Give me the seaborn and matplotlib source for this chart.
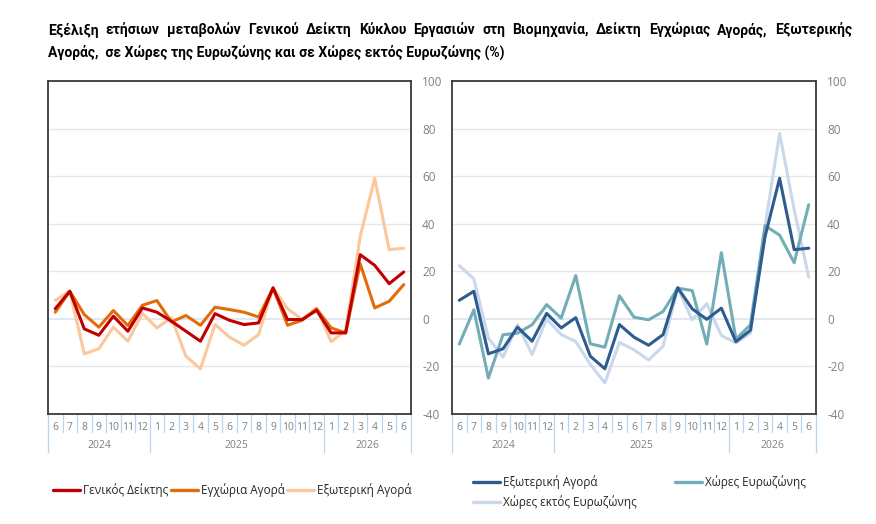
import matplotlib
matplotlib.use("Agg")
import matplotlib.pyplot as plt
import matplotlib.transforms as mtransforms
from matplotlib.lines import Line2D
import seaborn as sns
import pandas as pd
import numpy as np

# ---------------- data ----------------
months = ["6", "7", "8", "9", "10", "11", "12",
          "1", "2", "3", "4", "5", "6", "7", "8", "9", "10", "11", "12",
          "1", "2", "3", "4", "5", "6"]
years = ["2024", "2025", "2026"]
year_spans = [(0, 6), (7, 18), (19, 24)]

general = [4.3, 11.6, -4.2, -6.9, 1.1, -5.2, 4.6, 2.8, -1.0, -5.2, -9.4, 2.2, -0.6,
           -2.4, -1.7, 13.0, -0.3, -0.3, 3.6, -5.9, -5.9, 27.0, 22.5, 14.8, 19.7]
domestic = [2.8, 11.6, 1.8, -3.5, 3.5, -2.8, 5.7, 7.7, -1.3, 1.4, -2.7, 4.9, 3.9,
            2.8, 0.8, 13.0, -2.7, -0.6, 4.2, -3.8, -5.9, 23.2, 4.6, 7.4, 14.4]
external = [7.8, 11.6, -14.7, -12.6, -3.5, -9.4, 2.3, -3.8, 0.5, -15.7, -21.0, -2.4, -7.7,
            -11.1, -6.6, 13.1, 4.2, -0.2, 4.5, -9.6, -4.8, 34.6, 59.1, 29.1, 29.7]
eurozone = [-10.6, 3.8, -24.9, -6.7, -6.0, -2.5, 6.0, 0.3, 18.2, -10.5, -11.9, 9.7, 0.7,
            -0.4, 3.1, 12.9, 11.9, -10.6, 27.8, -8.5, -2.5, 39.2, 35.2, 23.6, 48.0]
non_euro = [22.4, 16.8, -8.1, -16.1, -2.5, -15.0, -0.1, -6.6, -9.5, -19.2, -26.9, -9.9, -13.0,
            -17.3, -11.5, 12.9, -0.4, 6.4, -7.0, -10.1, -6.0, 38.9, 78.0, 46.0, 17.5]

title_lines = [
    "Εξέλιξη ετήσιων μεταβολών Γενικού Δείκτη Κύκλου Εργασιών στη Βιομηχανία, Δείκτη Εγχώριας Αγοράς, Εξωτερικής",
    "Αγοράς,  σε Χώρες της Ευρωζώνης και σε Χώρες εκτός Ευρωζώνης (%)",
]

left_names = ["Γενικός Δείκτης", "Εγχώρια Αγορά", "Εξωτερική Αγορά"]
right_names = ["Εξωτερική Αγορά", "Χώρες Ευρωζώνης", "Χώρες εκτός Ευρωζώνης"]

C_RED, C_ORANGE, C_PEACH = "#C00000", "#E36C0A", "#FBC79B"
C_DBLUE, C_TEAL, C_LBLUE = "#2F5C8E", "#72ADB8", "#C9D8EC"

# ---------------- style ----------------
sns.set_theme(style="white")
plt.rcParams["font.family"] = ["Open Sans", "DejaVu Sans"]
plt.rcParams["axes.unicode_minus"] = False

W, H = 876, 524
fig = plt.figure(figsize=(W / 100, H / 100), dpi=100)


def px_axes(l, t, r, b):
    return fig.add_axes([l / W, 1 - b / H, (r - l) / W, (b - t) / H])


axL = px_axes(48, 81, 411, 414)
axR = px_axes(452, 81, 816, 414)

x = np.arange(len(months))


def draw(ax, series, colors, names, lw):
    for vals, c, n in zip(series, colors, names):
        df = pd.DataFrame({"x": x, "y": vals})
        sns.lineplot(data=df, x="x", y="y", ax=ax, color=c, linewidth=lw, label=n,
                     legend=False)


draw(axL, [external, domestic, general], [C_PEACH, C_ORANGE, C_RED],
     [left_names[2], left_names[1], left_names[0]], 2.2)
draw(axR, [non_euro, eurozone, external], [C_LBLUE, C_TEAL, C_DBLUE],
     [right_names[2], right_names[1], right_names[0]], 2.2)

sep_color = "#BDD3EA"
for ax in (axL, axR):
    ax.set_xlim(-0.5, len(months) - 0.5)
    ax.set_ylim(-40, 100)
    ax.set_yticks(range(-40, 101, 20))
    ax.yaxis.tick_right()
    ax.tick_params(axis="y", length=0, pad=8, labelsize=8.5, labelcolor="#808080")
    ax.set_xticks([])
    ax.set_xlabel("")
    ax.set_ylabel("")
    for y in range(-20, 101, 20):
        if y != 0:
            ax.axhline(y, color="#E6E6E6", linewidth=1.0, zorder=0)
    ax.axhline(0, color="#DCE4EF", linewidth=1.2, zorder=0)
    for s in ax.spines.values():
        s.set_color("#3A3A3A")
        s.set_linewidth(1.3)
    ax.set_facecolor("white")
    tr = mtransforms.blended_transform_factory(ax.transData, ax.transAxes)
    hax = 333.0
    for i, m in enumerate(months):
        ax.text(i, -14 / hax, m, transform=tr, ha="center", va="center",
                fontsize=7.5, color="#808080")
    bounds = {-0.5, 6.5, 18.5, len(months) - 0.5}
    for i in range(len(months) + 1):
        xb = i - 0.5
        y1 = -38 / hax if xb in bounds else -18 / hax
        ax.add_line(Line2D([xb, xb], [0, y1], transform=tr, color=sep_color,
                           linewidth=0.9, clip_on=False))
    for yl, (a, b) in zip(years, year_spans):
        ax.text((a + b) / 2, -32 / hax, yl, transform=tr, ha="center", va="center",
                fontsize=7.5, color="#808080")

# ---------------- legends (one entry each, placed at pixel positions) ----------------
def legend_item(color, name, xpx, ypx):
    h = Line2D([0], [0], color=color, linewidth=2.4)
    fig.legend([h], [name], loc="center left", bbox_to_anchor=(xpx / W, 1 - ypx / H),
               frameon=False, fontsize=8.5, handlelength=2.3, handletextpad=0.2,
               borderaxespad=0, borderpad=0)


legend_item(C_RED, left_names[0], 53, 490)
legend_item(C_ORANGE, left_names[1], 171, 490)
legend_item(C_PEACH, left_names[2], 287, 490)
legend_item(C_DBLUE, right_names[0], 473, 482)
legend_item(C_TEAL, right_names[1], 675, 482)
legend_item(C_LBLUE, right_names[2], 473, 502)

# ---------------- title (justified first line) ----------------
tfam = ["Roboto", "DejaVu Sans"]
renderer = fig.canvas.get_renderer()
x0, x1 = 48, 852
words = title_lines[0].split(" ")
tsize = 10.0
while True:
    tmp = [fig.text(0, 0, w, fontsize=tsize, fontweight="bold", family=tfam) for w in words]
    widths = [t.get_window_extent(renderer).width for t in tmp]
    for t in tmp:
        t.remove()
    gap = (x1 - x0 - sum(widths)) / (len(words) - 1)
    if gap >= 3.5 or tsize < 6:
        break
    tsize -= 0.25
cx = x0
for w, wd in zip(words, widths):
    fig.text(cx / W, 1 - 30 / H, w, fontsize=tsize, fontweight="bold", family=tfam,
             ha="left", va="center", color="#000000")
    cx += wd + gap
fig.text(x0 / W, 1 - 52 / H, title_lines[1], fontsize=tsize, fontweight="bold",
         family=tfam, ha="left", va="center", color="#000000")

fig.savefig("out.png", dpi=100, facecolor="white")
